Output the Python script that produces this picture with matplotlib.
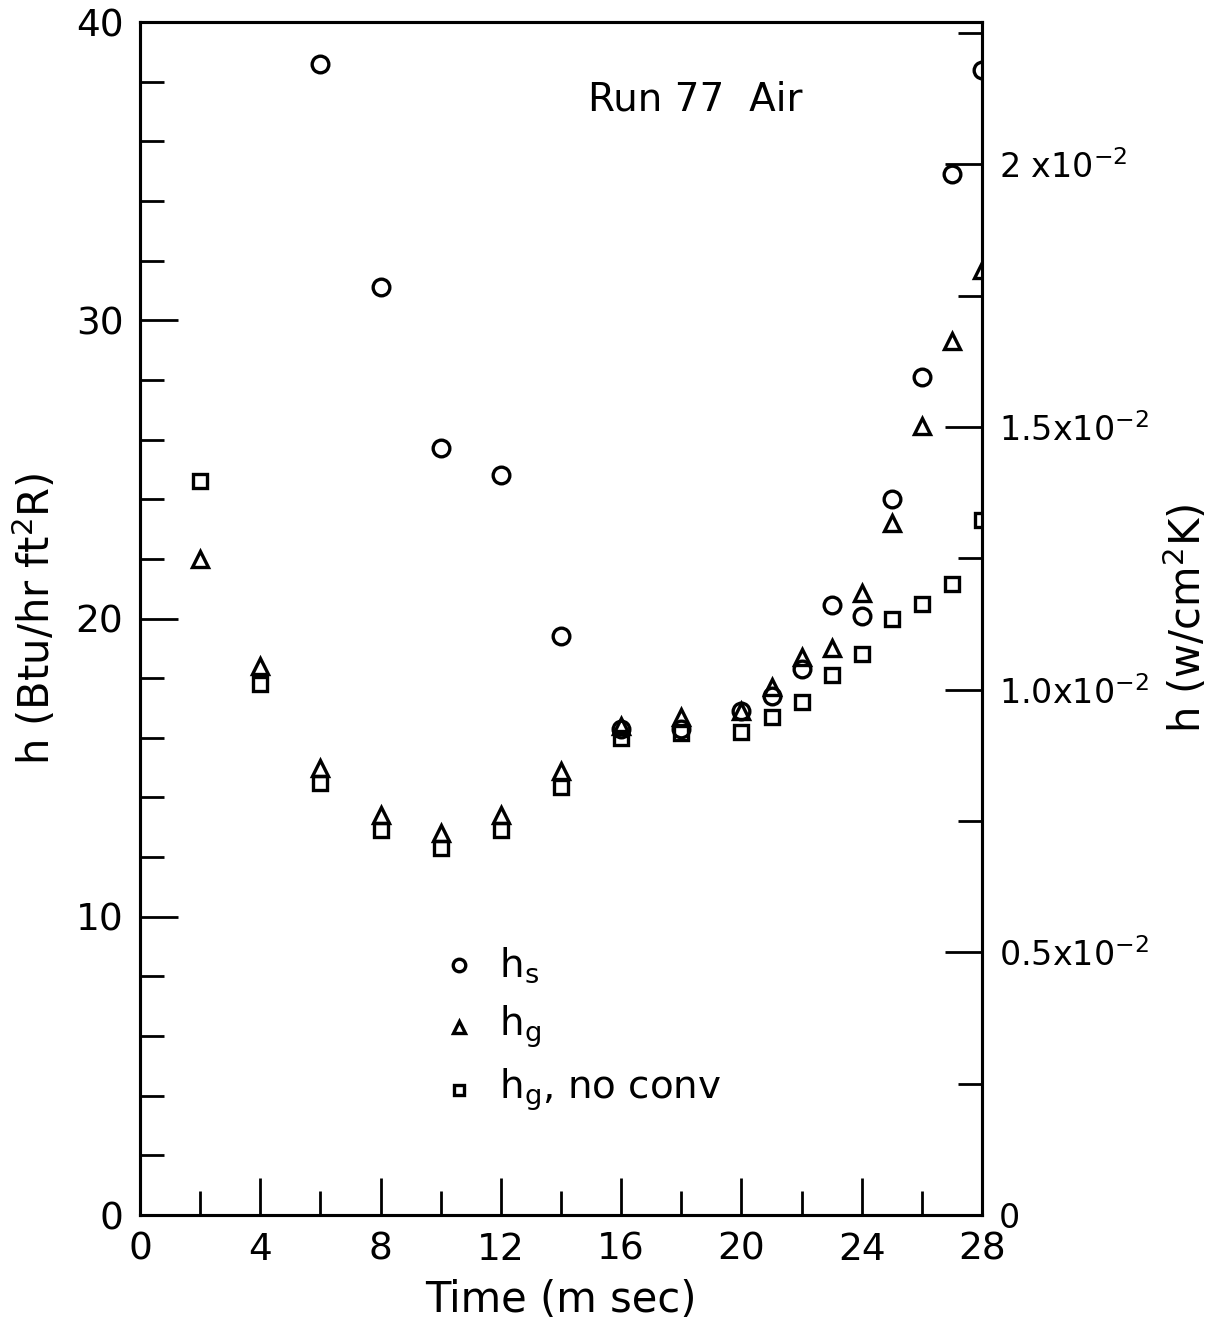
import matplotlib
matplotlib.use("Agg")
from matplotlib import pyplot as plt
from matplotlib.ticker import MultipleLocator, FixedLocator

# time in m sec
time_hs = [6, 8, 10, 12, 14, 16, 18, 20, 21, 22, 23, 24, 25, 26, 27, 28]
h_s = [38.6, 31.1, 25.7, 24.8, 19.4, 16.3, 16.3, 16.9, 17.4, 18.3, 20.45, 20.1, 24.0, 28.1, 34.9, 38.4]

time_hg = [2, 4, 6, 8, 10, 12, 14, 16, 18, 20, 21, 22, 23, 24, 25, 26, 27, 28]
h_g = [22.0, 18.4, 15.0, 13.4, 12.8, 13.4, 14.9, 16.4, 16.7, 16.9, 17.7, 18.7, 19.0, 20.85, 23.2, 26.45, 29.3, 31.7]
h_g_noconv = [24.6, 17.8, 14.5, 12.9, 12.3, 12.9, 14.35, 16.0, 16.15, 16.2, 16.7, 17.2, 18.1, 18.8, 20.0, 20.5, 21.15, 23.3]

# Btu/hr ft2 R -> W/cm2 K
conv = 5.678e-4
si_ticks = [0.5e-2, 1.0e-2, 1.5e-2, 2.0e-2]
si_labels = ["0.5x10$^{-2}$", "1.0x10$^{-2}$", "1.5x10$^{-2}$", "2 x10$^{-2}$"]

plt.rcParams["font.family"] = "DejaVu Sans"

fig = plt.figure(figsize=(12.11, 13.28), dpi=100)
ax = fig.add_axes([140 / 1211, 1 - 1215 / 1328, 842 / 1211, 1193 / 1328])

mk = dict(linestyle="none", color="black", markerfacecolor="none", markeredgewidth=2.4)
ax.plot(time_hs, h_s, marker="o", markersize=12, **mk)
ax.plot(time_hg, h_g, marker="^", markersize=12, **mk)
ax.plot(time_hg, h_g_noconv, marker="s", markersize=10, **mk)

ax.set_xlim(0, 28)
ax.set_ylim(0, 40)
ax.xaxis.set_major_locator(MultipleLocator(4))
ax.xaxis.set_minor_locator(MultipleLocator(2))
ax.yaxis.set_major_locator(MultipleLocator(10))
ax.yaxis.set_minor_locator(MultipleLocator(2))
ax.tick_params(which="both", direction="in", width=2, labelsize=27, color="black")
ax.tick_params(which="major", length=27)
ax.tick_params(which="minor", length=17)
ax.tick_params(axis="x", which="major", pad=12)
ax.tick_params(axis="y", which="major", pad=12)
for s in ax.spines.values():
  s.set_linewidth(2.2)

ax.set_xlabel("Time (m sec)", fontsize=30, labelpad=8)
ax.set_ylabel("h (Btu/hr ft$^2$R)", fontsize=30, labelpad=12)

ax.text(0.66, 0.935, "Run 77  Air", transform=ax.transAxes, fontsize=28, ha="center", va="center")

# hand-drawn style legend
leg_y = [8.38, 6.3, 4.19]
leg_marker = [("o", 9), ("^", 9), ("s", 7.5)]
leg_text = ["h$_\\mathregular{s}$", "h$_\\mathregular{g}$", "h$_\\mathregular{g}$, no conv"]
for yy, (m, ms), t in zip(leg_y, leg_marker, leg_text):
  ax.plot([10.6], [yy], marker=m, markersize=ms, **mk)
  ax.text(11.95, yy, t, fontsize=28, va="center", ha="left")

ax2 = ax.twinx()
ax2.set_ylim(0, 40 * conv)
ax2.yaxis.set_major_locator(FixedLocator([0] + si_ticks))
ax2.set_yticklabels(["0"] + si_labels)
ax2.yaxis.set_minor_locator(MultipleLocator(0.25e-2))
ax2.tick_params(which="both", direction="in", width=2, labelsize=24)
ax2.tick_params(which="major", length=27, pad=12)
ax2.tick_params(which="minor", length=17)
ax2.set_ylabel("h (w/cm$^2$K)", fontsize=30, labelpad=10)
for s in ax2.spines.values():
  s.set_linewidth(2.2)

fig.savefig("out.png", dpi=100)
